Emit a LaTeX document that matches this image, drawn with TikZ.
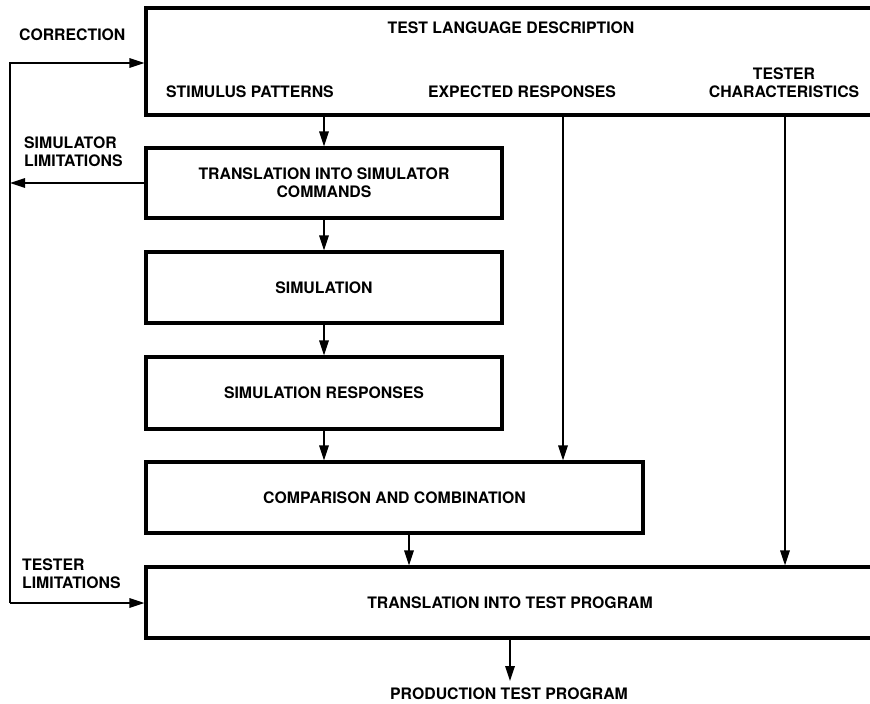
\documentclass[tikz,border=0pt]{standalone}
\usepackage{fontspec}
\setmainfont{TeX Gyre Heros}
\usetikzlibrary{arrows.meta}

\begin{document}
\begin{tikzpicture}[x=1pt, y=-1pt,
	every node/.style={font=\fontsize{15.8}{18}\selectfont\bfseries},
	box/.style={rectangle, draw, line width=3.2pt, align=center, inner sep=0pt},
	conn/.style={line width=1.7pt, -{Triangle[length=15pt,width=9.5pt]}},
	lbl/.style={align=left, anchor=west, inner sep=0pt}]
		\useasboundingbox (0,0) rectangle (870,704);

		% main column
		\draw
		(510,61.5) node [box, minimum width=728pt, minimum height=107pt] (tld) {}
		(324,183) node [box, minimum width=356pt, minimum height=70pt] (trsim) {TRANSLATION INTO SIMULATOR\\COMMANDS}
		(324,287.5) node [box, minimum width=356pt, minimum height=71pt] (sim) {SIMULATION}
		(324,393) node [box, minimum width=356pt, minimum height=72pt] (simresp) {SIMULATION RESPONSES}
		(394.5,497.5) node [box, minimum width=497pt, minimum height=71pt] (comp) {COMPARISON AND COMBINATION}
		(510,602.5) node [box, minimum width=728pt, minimum height=71pt] (trtest) {TRANSLATION INTO TEST PROGRAM};

		\draw
		(511,28) node (tldtitle) {TEST LANGUAGE DESCRIPTION}
		(250,92) node (stim) {STIMULUS PATTERNS}
		(522,92) node (expresp) {EXPECTED RESPONSES}
		(784,83) node [align=center] (tchar) {TESTER\\CHARACTERISTICS}
		(509,694) node (prod) {PRODUCTION TEST PROGRAM};

		\coordinate (er) at (563,0);
		\coordinate (tc) at (785,0);
		\coordinate (cc) at (409,0);
		\coordinate (prodin) at (510,681);

		\draw[conn] (trsim.north |- tld.south) -- (trsim.north);
		\draw[conn] (trsim.south) -- (sim.north);
		\draw[conn] (sim.south) -- (simresp.north);
		\draw[conn] (simresp.south) -- (simresp.south |- comp.north);
		\draw[conn] (er |- tld.south) -- (er |- comp.north);
		\draw[conn] (cc |- comp.south) -- (cc |- trtest.north);
		\draw[conn] (tc |- tld.south) -- (tc |- trtest.north);
		\draw[conn] (prodin |- trtest.south) -- (prodin);

		% feedback loop
		\draw
		(19,35) node [lbl] (corr) {CORRECTION}
		(24,152) node [lbl] (simlim) {SIMULATOR\\LIMITATIONS}
		(22,574) node [lbl] (testlim) {TESTER\\LIMITATIONS};

		\coordinate (fbtop) at (10,63);
		\coordinate (fbbot) at (10,603);
		\draw[conn] (fbbot) -- (fbtop) -- (fbtop -| tld.west);
		\draw[conn] (fbbot) -- (fbbot -| trtest.west);
		\draw[conn] (trsim.west) -- (trsim.west -| fbtop);
\end{tikzpicture}
\end{document}
